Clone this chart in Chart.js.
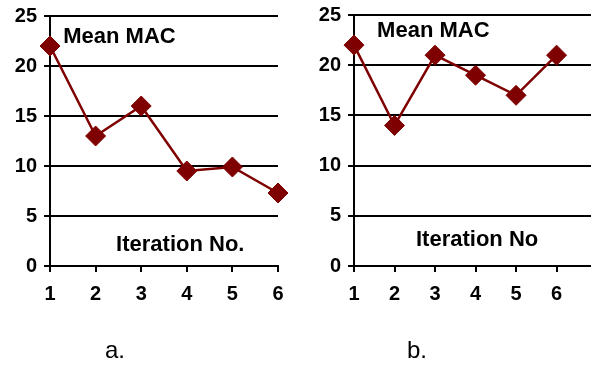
<!DOCTYPE html>
<html>
<head>
<meta charset="utf-8">
<script src="https://cdn.jsdelivr.net/npm/chart.js@4/dist/chart.umd.min.js"></script>
<style>
  html, body { margin: 0; padding: 0; background: #fff; }
  body { width: 591px; height: 369px; position: relative; overflow: hidden; font-family: "Liberation Sans", Arial, sans-serif; }
  .wrap { position: absolute; top: 0; height: 369px; }
  #wa { left: 0; width: 300px; }
  #wb { left: 300px; width: 291px; }
  .cap { position: absolute; font-size: 24px; line-height: 24px; color: #000; }
</style>
</head>
<body>
<div class="wrap" id="wa"><canvas id="ca"></canvas></div>
<div class="wrap" id="wb"><canvas id="cb"></canvas></div>
<div class="cap" id="capA" style="left:105px; top:338px;">a.</div>
<div class="cap" id="capB" style="left:407px; top:338px;">b.</div>
<script>
// ---- data ----
const iterations = [1, 2, 3, 4, 5, 6];
const meanMacA = [22, 13, 16, 9.5, 9.9, 7.3];
const meanMacB = [22, 14, 21, 19, 17, 21];
const yTicks = [0, 5, 10, 15, 20, 25];
const labelTitle = "Mean MAC";
const xTitleA = "Iteration No.";
const xTitleB = "Iteration No";
const captionA = "a.";
const captionB = "b.";

document.getElementById('capA').textContent = captionA;
document.getElementById('capB').textContent = captionB;

const RED = '#7f0000';
const FONT = "'Liberation Sans', Arial, sans-serif";

const textPlugin = {
  id: 'inlineText',
  afterDraw(chart, args, opts) {
    const ctx = chart.ctx;
    const xs = chart.scales.x, ys = chart.scales.y;
    ctx.save();
    ctx.fillStyle = '#000';
    ctx.font = 'bold 22px ' + FONT;
    ctx.textAlign = 'left';
    ctx.textBaseline = 'middle';
    (opts.items || []).forEach(it => {
      ctx.fillText(it.text, xs.getPixelForValue(it.x), ys.getPixelForValue(it.y));
    });
    ctx.restore();
  }
};

function makeChart(id, values, xMax, yW, padTop, padRight, items) {
  const pts = iterations.map((x, i) => ({ x: x, y: values[i] }));
  return new Chart(document.getElementById(id), {
    type: 'line',
    data: {
      datasets: [{
        data: pts,
        borderColor: RED,
        backgroundColor: RED,
        borderWidth: 2.5,
        pointStyle: 'rectRot',
        pointRadius: 10,
        pointBorderWidth: 1,
        pointBackgroundColor: RED,
        pointBorderColor: RED,
        tension: 0,
        clip: false
      }]
    },
    options: {
      responsive: true,
      maintainAspectRatio: false,
      animation: false,
      layout: { autoPadding: false, padding: { top: padTop, right: padRight, bottom: 0, left: 0 } },
      plugins: {
        legend: { display: false },
        tooltip: { enabled: false },
        inlineText: { items: items }
      },
      scales: {
        x: {
          type: 'linear',
          min: 1,
          max: xMax,
          afterBuildTicks(scale) {
            scale.ticks = iterations.map(v => ({ value: v }));
          },
          afterFit(scale) {
            scale.height = 103;
            scale.paddingLeft = 0; scale.paddingRight = 0;
          },
          grid: { drawOnChartArea: false, drawTicks: true, tickLength: 6, color: '#000', lineWidth: 2 },
          border: { display: true, color: '#000', width: 2 },
          ticks: {
            color: '#000',
            font: { family: FONT, size: 20, weight: 'bold' },
            padding: 10,
            maxRotation: 0,
            autoSkip: false
          }
        },
        y: {
          min: 0,
          max: 25,
          afterBuildTicks(scale) {
            scale.ticks = yTicks.map(v => ({ value: v }));
          },
          afterFit(scale) {
            scale.width = yW;
            scale.paddingTop = 0; scale.paddingBottom = 0;
          },
          grid: { drawTicks: true, tickLength: 6, color: '#000', lineWidth: 2 },
          border: { display: true, color: '#000', width: 2 },
          ticks: {
            color: '#000',
            font: { family: FONT, size: 20, weight: 'bold' },
            padding: 7
          }
        }
      }
    },
    plugins: [textPlugin]
  });
}

makeChart('ca', meanMacA, 6, 50, 16, 22, [
  { text: labelTitle, x: 1.29, y: 22.9 },
  { text: xTitleA, x: 2.45, y: 2.1 }
]);
makeChart('cb', meanMacB, 6.85, 54, 15, 0, [
  { text: labelTitle, x: 1.57, y: 23.4 },
  { text: xTitleB, x: 2.53, y: 2.6 }
]);
</script>
</body>
</html>
